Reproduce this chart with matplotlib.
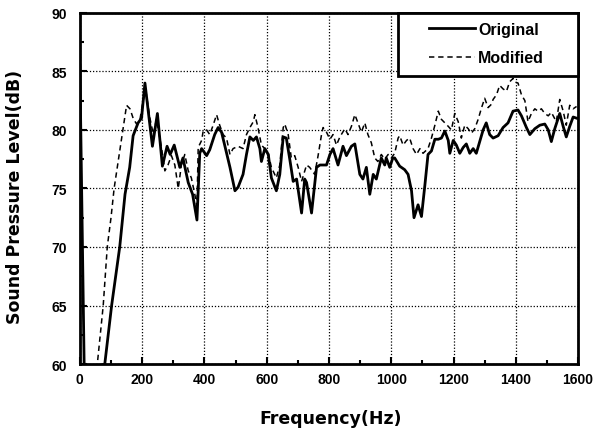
import matplotlib.pyplot as plt
from matplotlib.ticker import MultipleLocator
from matplotlib.patches import Rectangle

# values
freq_orig = [0, 4, 14, 80, 102, 128, 145, 160, 171, 187, 198, 209, 220, 233, 249,
             265, 280, 290, 303, 321, 331, 348, 362, 376, 385, 391, 407, 417, 433,
             444, 455, 465, 482, 498, 508, 524, 535, 546, 557, 567, 578, 583, 594,
             605, 615, 631, 642, 653, 663, 674, 685, 696, 712, 722, 728, 744, 760,
             771, 792, 803, 813, 829, 845, 856, 872, 883, 899, 909, 920, 931, 942,
             952, 968, 979, 984, 995, 1005, 1011, 1027, 1043, 1054, 1065, 1073,
             1086, 1097, 1108, 1118, 1129, 1140, 1151, 1161, 1172, 1183, 1188,
             1199, 1209, 1220, 1231, 1241, 1252, 1263, 1273, 1284, 1295, 1305,
             1316, 1327, 1343, 1359, 1375, 1391, 1407, 1418, 1434, 1445, 1461,
             1477, 1493, 1504, 1514, 1525, 1541, 1552, 1562, 1573, 1584, 1595]
spl_orig = [85.5, 78, 59.5, 60, 65, 70, 74.5, 76.8, 79.5, 80.6, 81.0, 84.0, 81.5,
            78.6, 81.4, 76.9, 78.6, 77.9, 78.7, 76.8, 77.6, 75.5, 74.5, 72.3, 78.0,
            78.4, 77.8, 78.3, 79.6, 80.2, 79.8, 78.7, 76.8, 74.8, 75.1, 76.2, 77.9,
            79.4, 79.1, 79.4, 78.4, 77.3, 78.4, 77.9, 75.9, 74.8, 76.2, 79.4, 79.3,
            77.5, 75.6, 75.8, 72.9, 75.8, 75.5, 72.9, 76.8, 77.0, 77.0, 77.9, 78.4,
            77.0, 78.6, 77.8, 78.6, 78.8, 76.2, 75.8, 76.8, 74.5, 76.2, 75.8, 77.6,
            77.0, 77.6, 76.8, 77.6, 77.6, 76.9, 76.6, 76.2, 74.8, 72.5, 73.6, 72.6,
            75.3, 77.9, 78.2, 79.2, 79.2, 79.3, 79.9, 79.1, 78.0, 79.1, 78.7, 78.0,
            78.5, 78.8, 78.0, 78.4, 78.0, 79.0, 80.0, 80.6, 79.6, 79.3, 79.5, 80.2,
            80.6, 81.6, 81.7, 81.2, 80.2, 79.6, 80.1, 80.4, 80.5, 80.0, 79.0, 80.1,
            81.4, 80.3, 79.4, 80.3, 81.1, 81.0]

freq_mod = [50, 56, 75, 88, 100, 110, 128, 139, 150, 161, 171, 182, 193, 203, 212,
            225, 236, 246, 262, 273, 283, 294, 305, 316, 326, 337, 348, 358, 369,
            376, 380, 391, 396, 407, 417, 428, 439, 449, 460, 471, 482, 492, 508,
            524, 535, 546, 557, 562, 572, 583, 594, 605, 615, 631, 642, 653, 658,
            669, 679, 690, 701, 712, 728, 738, 754, 765, 776, 781, 792, 803, 813,
            824, 835, 851, 861, 872, 883, 893, 904, 915, 925, 936, 947, 957, 968,
            979, 990, 1000, 1011, 1022, 1027, 1038, 1049, 1059, 1070, 1081, 1092,
            1102, 1118, 1129, 1140, 1151, 1161, 1172, 1183, 1193, 1204, 1215, 1225,
            1236, 1247, 1257, 1268, 1279, 1290, 1300, 1311, 1322, 1327, 1338, 1348,
            1359, 1370, 1380, 1391, 1396, 1407, 1418, 1429, 1439, 1450, 1461, 1471,
            1482, 1493, 1504, 1514, 1530, 1541, 1552, 1562, 1573, 1584, 1595]
spl_mod = [58, 60, 65, 70, 72.5, 75, 78.2, 80.2, 82.1, 81.8, 81.0, 80.5, 80.9, 82.5,
           83.3, 81.0, 79.6, 80.9, 78.5, 76.5, 77.0, 77.8, 77.0, 75.0, 77.0, 77.9,
           76.5, 75.9, 74.5, 73.5, 78.5, 79.1, 79.9, 80.0, 79.6, 80.4, 81.3, 80.4,
           79.6, 79.3, 77.9, 78.4, 78.6, 78.4, 79.6, 80.2, 80.7, 81.3, 80.2, 78.7,
           78.4, 78.0, 76.8, 75.9, 77.0, 80.2, 80.5, 79.6, 77.6, 77.8, 76.8, 75.6,
           77.0, 76.8, 76.2, 77.8, 79.6, 80.2, 79.8, 79.2, 79.6, 78.7, 79.4, 80.1,
           79.6, 80.3, 81.3, 80.6, 79.8, 80.6, 79.6, 78.9, 77.6, 77.3, 77.9, 77.5,
           77.9, 77.6, 78.0, 79.3, 79.5, 78.7, 79.1, 79.3, 78.4, 77.9, 78.4, 78.0,
           78.4, 79.3, 80.4, 81.6, 80.9, 80.6, 80.3, 80.0, 81.4, 80.7, 79.3, 80.4,
           80.1, 79.7, 80.1, 80.9, 81.9, 82.7, 81.9, 82.2, 82.6, 83.0, 83.8, 83.5,
           83.3, 84.1, 84.4, 84.1, 84.0, 83.0, 82.5, 80.7, 81.4, 81.8, 81.6, 81.8,
           81.4, 81.2, 81.5, 80.7, 82.6, 81.6, 80.4, 82.1, 81.8, 82.0]

xticks = [0, 200, 400, 600, 800, 1000, 1200, 1400, 1600]
yticks = [60, 65, 70, 75, 80, 85, 90]

plt.rcParams['font.family'] = ['Liberation Sans', 'DejaVu Sans']
plt.rcParams['font.weight'] = 'bold'

fig = plt.figure(figsize=(5.96, 4.31), dpi=100)
ax = fig.add_axes([0.134, 0.153, 0.836, 0.815])

ax.plot(freq_orig, spl_orig, color='black', lw=2.0, label='Original')
ax.plot(freq_mod, spl_mod, color='black', lw=1.1, ls=(0, (3.5, 2.5)), label='Modified')

ax.set_xlim(0, 1600)
ax.set_ylim(60, 90)
ax.set_xticks(xticks)
ax.set_yticks(yticks)
ax.xaxis.set_minor_locator(MultipleLocator(100))
ax.yaxis.set_minor_locator(MultipleLocator(2.5))
ax.tick_params(which='both', direction='in', width=1.5)
ax.tick_params(which='major', length=5, labelsize=10)
ax.tick_params(which='minor', length=3)
ax.tick_params(axis='x', pad=6)
ax.tick_params(axis='y', pad=9)
for lab in ax.get_xticklabels() + ax.get_yticklabels():
    lab.set_fontweight('bold')

ax.grid(True, which='major', color='black', ls=(0, (1, 1.5)), lw=0.9)
for s in ax.spines.values():
    s.set_linewidth(2)

lab_font = dict(family='DejaVu Sans', size=12.5, weight='bold')
ax.set_xlabel('Frequency(Hz)', fontdict=lab_font, va='top')
ax.xaxis.set_label_coords(0.504, -0.128)
ax.set_ylabel('Sound Pressure Level(dB)', fontdict=lab_font)
ax.yaxis.set_label_coords(-0.112, 0.48)

# legend box: white panel in the upper right corner, thick frame
box = Rectangle((0.639, 0.82), 0.361, 0.18, transform=ax.transAxes,
                facecolor='white', edgecolor='black', lw=2, zorder=4, clip_on=False)
ax.add_patch(box)
leg = ax.legend(loc='upper left', bbox_to_anchor=(0.70, 0.975), borderaxespad=0,
                borderpad=0, frameon=False, fontsize=11.5, handlelength=2.9,
                handletextpad=0.2, labelspacing=0.85)
leg.set_zorder(5)

fig.savefig('out.png', dpi=100)
